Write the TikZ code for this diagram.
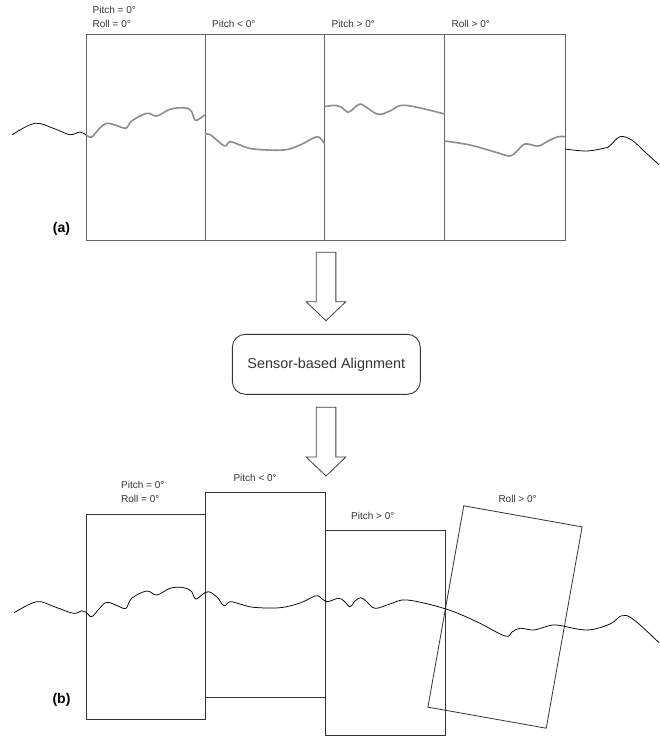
\documentclass[tikz,border=0pt]{standalone}
\usepackage{fontspec}
\setmainfont{Liberation Sans}
\usetikzlibrary{calc}
\definecolor{inkgray}{HTML}{333333}
\definecolor{framegray}{HTML}{666666}
\definecolor{tracegray}{HTML}{8C8C8C}
\tikzset{
  frameA/.style={draw=framegray, line width=1pt, minimum width=119.5pt, minimum height=205pt, inner sep=0pt},
  frameB/.style={draw=black!80, line width=0.8pt, minimum width=120pt, minimum height=205pt, inner sep=0pt},
  trace/.style={draw=tracegray, line width=1.6pt, line join=round},
  terrain/.style={draw=black, line width=0.75pt, line join=round},
  caption/.style={font=\fontsize{10}{13.3}\selectfont, text=inkgray, anchor=west, inner sep=0pt, align=left},
  panel/.style={font=\fontsize{14}{16}\selectfont\bfseries, text=black, inner sep=0pt},
  stage/.style={draw=black!80, line width=0.9pt, rounded corners=13pt, minimum width=188pt, minimum height=60pt,
                font=\fontsize{14.4}{16}\selectfont, text=inkgray},
  blockarrow/.style={draw=black!75, line width=0.8pt, fill=white, line join=miter}
}
% block arrow from shaft top #1 down to tip #2
\newcommand\blockarrow[2]{%
  \draw[blockarrow] ($(#1)+(-9.85,0)$) -- ($(#2)+(-9.85,-19)$) -- ($(#2)+(-19.85,-19)$) -- (#2)
    -- ($(#2)+(19.85,-19)$) -- ($(#2)+(9.85,-19)$) -- ($(#1)+(9.85,0)$) -- cycle;}
\begin{document}
\begin{tikzpicture}[x=1pt, y=-1pt]
\useasboundingbox (0,0) rectangle (659,738);

% ---------- (a) raw frames ----------
\node[frameA] (a1) at (145.75,137.5) {};
\node[frameA] (a2) at (264.75,137.5) {};
\node[frameA] (a3) at (384.5,137.5) {};
\node[frameA, minimum width=120.5pt] (a4) at (504.75,137.5) {};

\draw[terrain] plot[smooth, tension=0.6] coordinates {(12.3,134.7) (35,123.3) (55,129) (70,134.7) (80,132) (86,135)};
\draw[trace] plot[smooth, tension=0.6] coordinates {(86,135) (91.7,137) (99,129) (106.7,123.3) (118,126) (126,128.3) (131.7,121) (146.7,113.3) (156.7,116) (170,109.3) (183.3,107.7) (189,109) (191.7,111.7) (195,120) (199,119) (204.7,115)};
\draw[trace] plot[smooth, tension=0.6] coordinates {(205,134) (210,134.5) (216.7,140) (225,146) (230,141.7) (240,145) (253.3,149) (283.3,150) (300,145) (315,137.3) (320,138) (324.3,143.3)};
\draw[trace] plot[smooth, tension=0.6] coordinates {(324.5,106.7) (335,105.3) (341,107) (348.3,112.3) (354,108) (360,104) (366,107) (378.3,114.3) (390,111) (405,105.3) (444.5,114)};
\draw[trace] plot[smooth, tension=0.6] coordinates {(444.5,141) (470,145) (495,152) (510,156) (517,151) (525,144) (538.3,146) (548,141) (558.3,136.7) (565,136.7)};
\draw[terrain] plot[smooth, tension=0.6] coordinates {(565,149) (586.7,151) (605,148) (610,145.7) (620,136.7) (631.7,140) (645,152) (659,164.7)};

\node[caption] (ca1) at (92.5,17) {Pitch = 0°\\Roll = 0°};
\node[caption] (ca2) at (212,23.5) {Pitch < 0°};
\node[caption] (ca3) at (331.5,23.5) {Pitch > 0°};
\node[caption] (ca4) at (451.5,23.5) {Roll > 0°};
\node[panel] (pa) at (61.5,229) {(a)};

% ---------- alignment stage ----------
\node[stage] (align) at (326.3,364.3) {Sensor-based Alignment};
\coordinate (up1) at (326,252.3);
\coordinate (tip1) at (326,320.7);
\coordinate (up2) at (326,407.3);
\coordinate (tip2) at (326,476);
\blockarrow{up1}{tip1}
\blockarrow{up2}{tip2}

% ---------- (b) aligned frames ----------
\node[frameB, minimum width=119.4pt, minimum height=204.7pt] (b1) at (146,616.65) {};
\node[frameB, minimum height=205.4pt] (b2) at (265.7,595) {};
\node[frameB, minimum height=205.4pt] (b3) at (385.7,633) {};
\node[frameB, minimum width=120.2pt, minimum height=204.5pt, rotate=-10.1] (b4) at (505,617) {};

\draw[terrain] plot[smooth, tension=0.6] coordinates {(14.3,612.7) (36.7,601.7) (55,607) (73.3,613.3) (81.7,610.7) (86.3,612.3) (91.7,616.7) (99,609) (106.7,602.3) (118,606) (126,608.3) (131.7,598.3) (146.7,591) (156.7,595) (170,588.3) (181.7,587.3) (189,589.5) (191.7,591.7) (195.7,599) (201.7,595) (208.3,591.7) (216.7,596.7) (224,605.7) (230,601.7) (240,604) (253.3,607.3) (280,607.7) (300,603) (315,596) (320,597) (326.7,601.7) (338.3,598.3) (344,601) (350,606.7) (355,601) (360.7,597.7) (366,601) (375,608.3) (390,604) (407.3,600) (446,609) (476.7,621.7) (505,636) (512,632) (520,628.3) (533.3,630) (545,627) (556.7,625) (586.7,630) (610,624) (621.7,615.7) (633.3,619.3) (659,642.7)};

\node[caption] (cb1) at (121,492) {Pitch = 0°\\Roll = 0°};
\node[caption] (cb2) at (233.3,478.3) {Pitch < 0°};
\node[caption] (cb3) at (351,515.7) {Pitch > 0°};
\node[caption] (cb4) at (498.3,499) {Roll > 0°};
\node[panel] (pb) at (61.5,700) {(b)};
\end{tikzpicture}
\end{document}
